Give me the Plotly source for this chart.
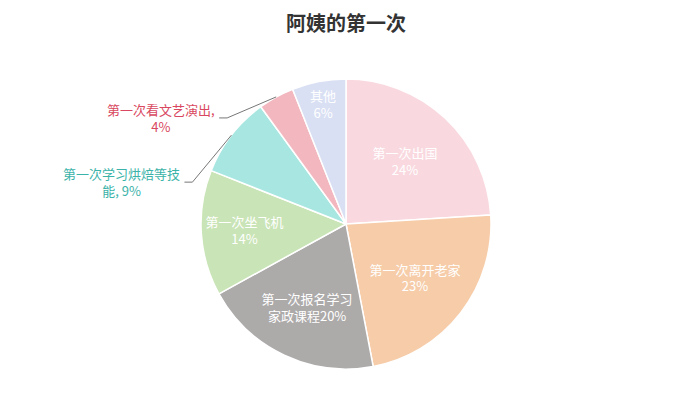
import math
import plotly.graph_objects as go

# dados
categorias = ["第一次出国", "第一次离开老家", "第一次报名学习家政课程", "第一次坐飞机",
              "第一次学习烘焙等技能", "第一次看文艺演出", "其他"]
valores = [24, 23, 20, 14, 9, 4, 6]
rotulos = ["第一次出国<br>24%", "第一次离开老家<br>23%", "第一次报名学习<br>家政课程20%",
           "第一次坐飞机<br>14%", "", "", "其他<br>6%"]
rotulos_fora = {4: "第一次学习烘焙等技<br>能, 9%", 5: "第一次看文艺演出,<br>4%"}
cores = ["#f9d9df", "#f6cca9", "#adaaaa", "#c9e4b6", "#a8e7e1", "#f2b7bf", "#d9e0f3"]
cores_fora = {4: "#3bb3a8", 5: "#d94860"}

W, H = 692, 405
CX, CY, R = 346, 224, 145

fig = go.Figure(go.Pie(
    labels=categorias,
    values=valores,
    text=rotulos,
    textinfo="text",
    textposition="inside",
    insidetextorientation="horizontal",
    sort=False,
    direction="clockwise",
    rotation=0,
    marker=dict(colors=cores, line=dict(color="white", width=1.5)),
    textfont=dict(color="white", size=13, family="Noto Sans CJK SC"),
    domain=dict(x=[0, 1], y=[1 - (CY + R) / H, 1 - (CY - R) / H]),
    showlegend=False,
    hoverinfo="label+percent",
))

# rótulos externos com linha de chamada
total = sum(valores)
deslocamentos = {4: (-39, 47, -8), 5: (-49, 21, -8)}
acum = 0
for i, v in enumerate(valores):
    meio = (acum + v / 2) / total * 2 * math.pi
    acum += v
    if i not in rotulos_fora:
        continue
    x0 = CX + R * math.sin(meio)
    y0 = CY - R * math.cos(meio)
    dx, dy, hx = deslocamentos[i]
    x1, y1 = x0 + dx, y0 + dy
    x2 = x1 + hx
    pts = [(x0, y0), (x1, y1), (x2, y1)]
    caminho = "M " + " L ".join(f"{px / W},{1 - py / H}" for px, py in pts)
    fig.add_shape(type="path", path=caminho, xref="paper", yref="paper",
                  line=dict(color="#777777", width=1))
    fig.add_annotation(x=(x2 - 2) / W, y=1 - y1 / H, xref="paper", yref="paper",
                       text=rotulos_fora[i], showarrow=False, xanchor="right", yanchor="middle",
                       align="center", font=dict(color=cores_fora[i], size=13, family="Noto Sans CJK SC"))

fig.update_layout(
    title=dict(text="<b>阿姨的第一次</b>", x=0.5, xanchor="center", y=1 - 24 / H, yanchor="middle",
               font=dict(size=20, color="#333333", family="Noto Sans CJK SC")),
    width=W, height=H,
    margin=dict(l=0, r=0, t=0, b=0),
    paper_bgcolor="white",
    plot_bgcolor="white",
)

fig.write_html("out.html", config={"displayModeBar": False},
               post_script="document.body.style.margin='0';")
